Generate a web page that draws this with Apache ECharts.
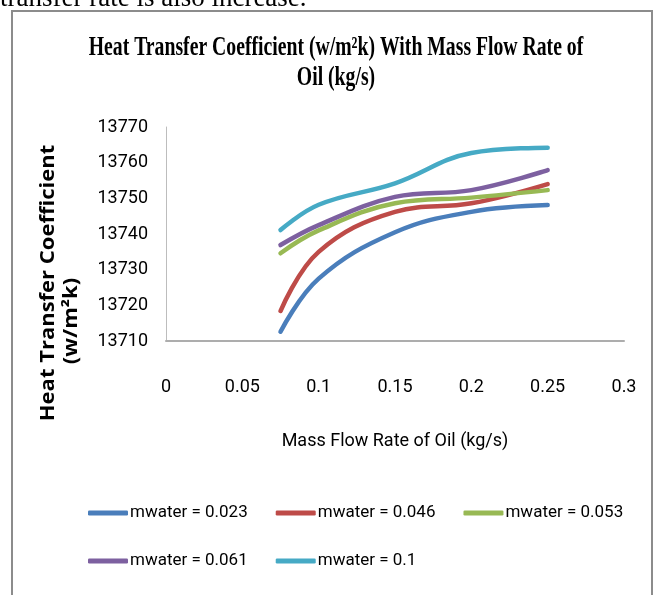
<!DOCTYPE html>
<html>
<head>
<meta charset="UTF-8">
<title>Heat Transfer Coefficient</title>
<script src="https://cdn.jsdelivr.net/npm/echarts@6/dist/echarts.min.js"></script>
<style type="text/css">
	html, body { margin: 0; padding: 0; background: #fff; }
	#chart { width: 657px; height: 595px; }
</style>
</head>
<body>
<div id="chart"></div>
<script type="text/javascript">
	// mass flow rate of oil (kg/s)
	var xValues = [0.075, 0.1, 0.15, 0.2, 0.25];
	// heat transfer coefficient, one list per water flow rate
	var mw023 = [13712.6, 13727.5, 13740.5, 13746.2, 13748.1];
	var mw046 = [13718.4, 13735.0, 13746.2, 13748.6, 13754.0];
	var mw053 = [13734.6, 13741.0, 13748.6, 13750.2, 13752.3];
	var mw061 = [13736.9, 13742.5, 13750.4, 13752.3, 13757.9];
	var mw1 = [13741.1, 13748.2, 13754.2, 13762.7, 13764.2];
	var names = ['mwater = 0.023', 'mwater = 0.046', 'mwater = 0.053', 'mwater = 0.061', 'mwater = 0.1'];
	var colors = ['#4A7EBB', '#BE4B48', '#98B954', '#7D60A0', '#46AAC5'];

	var pairs = function(ys) {
		var out = [];
		for(var i = 0; i < xValues.length; i++) {
			out.push([xValues[i], ys[i]]);
		}
		return out;
	}

	var allSeries = [mw023, mw046, mw053, mw061, mw1];
	var series = [];
	for(var i = 0; i < allSeries.length; i++) {
		series.push({
			name: names[i],
			type: 'line',
			data: pairs(allSeries[i]),
			smooth: 0.4,
			symbol: 'none',
			lineStyle: { width: 4.5, color: colors[i], cap: 'round' },
			itemStyle: { color: colors[i] }
		});
	}

	var chart = echarts.init(document.getElementById('chart'));
	var option = {
		animation: false,
		color: colors,
		graphic: [
			{
				type: 'text',
				left: 0,
				top: -15,
				style: {
					text: 'transfer rate is also increase.',
					font: '27px "Liberation Serif"',
					fill: '#000'
				}
			},
			{
				type: 'polyline',
				shape: { points: [[12, 600], [12, 11], [652, 11], [652, 600]] },
				style: { stroke: '#8C8C8C', lineWidth: 2, fill: null }
			},
			//title, squeezed sideways like the original
			{
				type: 'text',
				x: 336,
				y: 48.5,
				scaleX: 0.73,
				style: {
					text: 'Heat Transfer Coefficient (w/m\u00b2k) With Mass Flow Rate of',
					font: 'bold 27px "Liberation Serif"',
					fill: '#000',
					align: 'center',
					verticalAlign: 'middle'
				}
			},
			{
				type: 'text',
				x: 336,
				y: 78.5,
				scaleX: 0.73,
				style: {
					text: 'Oil (kg/s)',
					font: 'bold 27px "Liberation Serif"',
					fill: '#000',
					align: 'center',
					verticalAlign: 'middle'
				}
			},
			//y axis name
			{
				type: 'text',
				x: 49,
				y: 283,
				rotation: Math.PI / 2,
				scaleY: 0.85,
				style: {
					text: 'Heat Transfer Coefficient',
					font: 'bold 22px "Open Sans"',
					fill: '#000',
					align: 'center',
					verticalAlign: 'middle'
				}
			},
			{
				type: 'text',
				x: 72,
				y: 321,
				rotation: Math.PI / 2,
				scaleY: 0.85,
				style: {
					text: '(w/m\u00b2k)',
					font: 'bold 22px "Open Sans"',
					fill: '#000',
					align: 'center',
					verticalAlign: 'middle'
				}
			}
		],
		grid: {
			left: 166,
			right: 33,
			top: 127,
			bottom: 254
		},
		legend: {
			left: 88,
			top: 503,
			width: 570,
			padding: 0,
			itemGap: 28,
			itemWidth: 40,
			itemHeight: 5,
			icon: 'roundRect',
			textStyle: {
				fontFamily: 'Roboto',
				fontSize: 17,
				lineHeight: 20,
				color: '#000',
				padding: [0, 0, 0, -3]
			},
			data: names
		},
		xAxis: {
			type: 'value',
			min: 0,
			max: 0.3,
			interval: 0.05,
			name: 'Mass Flow Rate of Oil (kg/s)',
			nameLocation: 'middle',
			nameGap: 91,
			nameTextStyle: { fontFamily: 'Roboto', fontSize: 18, color: '#000' },
			axisLine: { show: true, lineStyle: { color: '#ADADAD', width: 2 } },
			axisTick: { show: false },
			splitLine: { show: false },
			axisLabel: {
				margin: 37,
				fontFamily: 'Roboto',
				fontSize: 18,
				color: '#000'
			}
		},
		yAxis: {
			type: 'value',
			min: 13710,
			max: 13770,
			interval: 10,
			axisLine: { show: true, lineStyle: { color: '#BDBDBD', width: 1 } },
			axisTick: { show: false },
			splitLine: { show: false },
			axisLabel: {
				margin: 18,
				fontFamily: 'Roboto',
				fontSize: 18,
				color: '#000',
				formatter: function(v) {
					return String(v);
				}
			}
		},
		series: series
	};
	chart.setOption(option);
</script>
</body>
</html>
